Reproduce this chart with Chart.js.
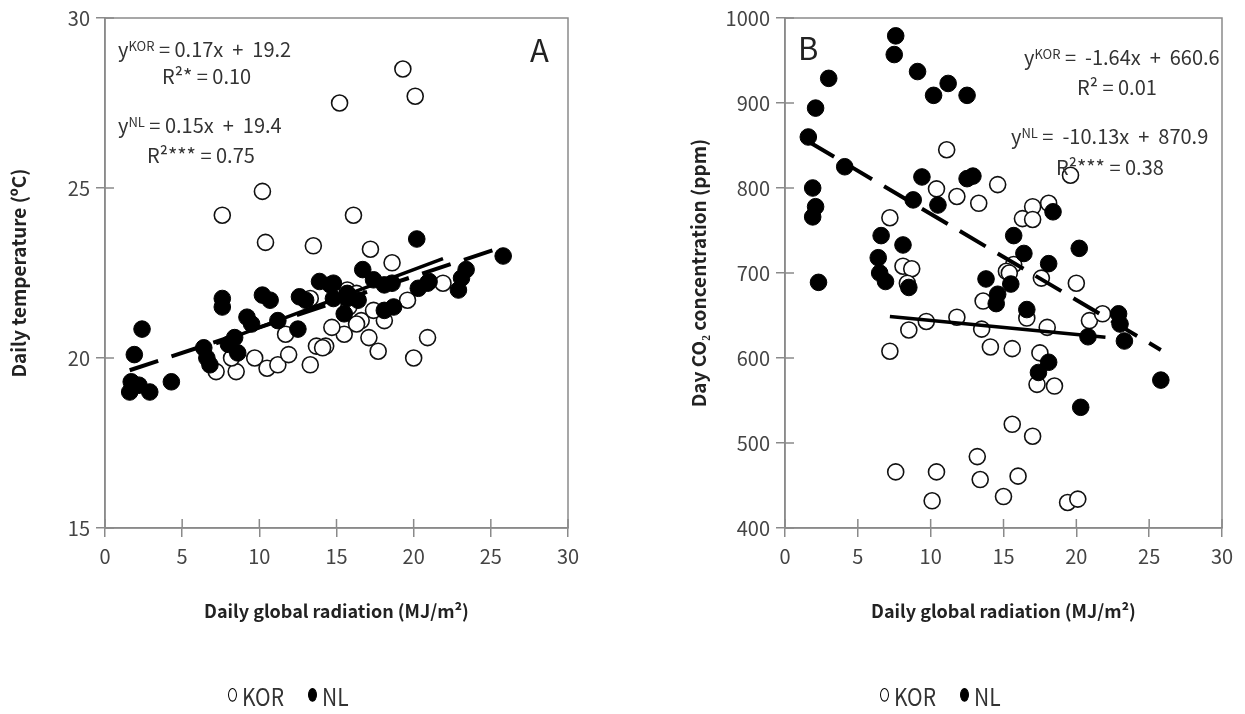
<!DOCTYPE html>
<html>
<head>
<meta charset="utf-8">
<script src="https://cdn.jsdelivr.net/npm/chart.js@4.4.0/dist/chart.umd.min.js"></script>
<style>
body{margin:0;background:#fff;width:1245px;height:714px;position:relative;overflow:hidden;font-family:"Noto Sans CJK KR","Noto Sans",sans-serif;color:#333}
.box{position:absolute;top:0;height:714px}
.note{position:absolute;font-size:20px;white-space:pre;line-height:20px;color:#333}
.note sup{font-size:13px;vertical-align:6px}
.big{position:absolute;font-size:31px;line-height:30px;color:#222}
.leg{position:absolute;top:686px;font-size:21px;line-height:20px;white-space:nowrap;transform:scaleY(1.15);color:#333}
.mk{display:inline-block;width:7px;height:10px;border-radius:50%;border:1.5px solid #000;background:#fff;margin-right:5px;vertical-align:4px}
.mk.f{background:#000;margin-left:24px}
</style>
</head>
<body>

<div class="box" style="left:0;width:600px"><canvas id="chartA" width="600" height="714"></canvas></div>
<div class="box" style="left:680px;width:565px"><canvas id="chartB" width="565" height="714"></canvas></div>

<div class="note" style="left:118px;top:36px">y<sup>KOR</sup> = 0.17x  +  19.2</div>
<div class="note" style="left:162px;top:66px">R²* = 0.10</div>
<div class="note" style="left:118px;top:112px">y<sup>NL</sup> = 0.15x  +  19.4</div>
<div class="note" style="left:147px;top:145px">R²*** = 0.75</div>
<div class="big" style="left:530px;top:34px">A</div>

<div class="big" style="left:798px;top:32px">B</div>
<div class="note" style="left:1024px;top:44px">y<sup>KOR</sup> =  -1.64x  +  660.6</div>
<div class="note" style="left:1077px;top:77px">R² = 0.01</div>
<div class="note" style="left:1011px;top:123px">y<sup>NL</sup> =  -10.13x  +  870.9</div>
<div class="note" style="left:1056px;top:157px">R²*** = 0.38</div>

<div class="leg" style="left:228px"><span class="mk"></span>KOR<span class="mk f"></span>NL</div>
<div class="leg" style="left:880px"><span class="mk"></span>KOR<span class="mk f"></span>NL</div>

<script>
// A: daily temperature vs radiation
var korA_x = [19.3,20.1,15.2,10.2,7.6,16.1,10.4,13.5,17.2,18.6,21.9,19.6,20.9,20.0,16.6,15.5,17.1,17.7,18.1,17.4,14.7,15.7,7.2,8.5,9.7,10.5,11.2,11.9,11.7,13.3,13.7,14.3,13.3,8.2,16.3,15.8,14.1,16.3];
var korA_y = [28.5,27.7,27.5,24.9,24.2,24.2,23.4,23.3,23.2,22.8,22.2,21.7,20.6,20.0,21.1,20.7,20.6,20.2,21.1,21.4,20.9,22.0,19.6,19.6,20.0,19.7,19.8,20.1,20.7,19.8,20.35,20.35,21.75,20.0,21.9,21.5,20.3,21.0];
var nlA_x = [2.4,1.9,1.7,1.6,2.2,2.9,4.3,6.4,6.6,6.8,7.6,7.6,8.0,8.4,8.6,9.2,9.5,10.2,10.7,11.2,12.5,12.6,13.0,13.9,14.6,14.8,20.2,25.8,16.7,17.4,18.1,14.8,15.7,16.4,15.5,18.1,18.7,20.3,21.0,22.9,23.1,23.4,18.6,20.9,15.7];
var nlA_y = [20.85,20.1,19.3,19.0,19.2,19.0,19.3,20.3,20.0,19.8,21.75,21.5,20.4,20.6,20.15,21.2,21.0,21.85,21.7,21.1,20.85,21.8,21.7,22.25,22.15,21.75,23.5,23.0,22.6,22.3,22.15,22.2,21.9,21.7,21.3,21.4,21.5,22.05,22.25,22.0,22.35,22.6,22.2,22.2,21.75];
var fitA_kor_x = [7.2, 21.9];
var fitA_kor_y = [20.42, 22.92];
var fitA_nl_x = [1.6, 25.8];
var fitA_nl_y = [19.64, 23.27];

// B: day CO2 vs radiation
var korB_x = [11.1,10.4,11.8,13.3,14.6,7.2,19.6,17.0,18.1,16.3,17.0,15.7,15.2,17.6,20.0,16.6,18.0,20.9,21.8,15.6,17.5,7.2,8.5,9.7,11.8,13.5,14.1,17.3,18.5,15.6,17.0,13.2,7.6,10.4,13.4,16.0,10.1,15.0,19.4,20.1,8.1,8.7,8.4,13.6,15.4];
var korB_y = [845,799,790,782,804,765,815,778,782,764,763,710,702,694,688,647,636,644,652,611,606,608,633,643,648,634,613,569,567,522,508,484,466,466,457,461,432,437,430,434,708,705,688,667,700];
var nlB_x = [7.6,7.5,9.1,11.2,10.2,12.5,3.0,2.1,1.6,4.1,1.9,2.1,1.9,9.4,12.9,12.5,8.8,10.5,6.6,8.1,6.4,2.3,6.5,6.9,8.5,13.8,14.6,14.5,15.5,15.7,16.4,18.1,18.4,20.2,16.6,20.8,22.9,23.0,23.3,18.1,17.4,25.8,20.3];
var nlB_y = [979,957,937,923,909,909,929,894,860,825,800,778,766,813,814,811,786,780,744,733,718,689,700,690,683,693,675,664,687,744,723,711,772,729,657,625,652,640,620,595,583,574,542];
var fitB_kor_x = [7.2, 22.0];
var fitB_kor_y = [648.8, 624.5];
var fitB_nl_x = [1.6, 25.8];
var fitB_nl_y = [854.7, 609.5];

var xTitle = 'Daily global radiation (MJ/m²)';
var yTitleA = 'Daily temperature (ºC)';
var yTitleB = 'Day CO₂ concentration (ppm)';

function pts(xs, ys) {
  var out = [];
  for (var i = 0; i < xs.length; i++) out.push({x: xs[i], y: ys[i]});
  return out;
}

// box round the plot + inner half of the ticks
var frame = {
  id: 'frame',
  afterDraw: function(chart) {
    var c = chart.ctx, a = chart.chartArea;
    c.save();
    c.strokeStyle = '#8a8a8a';
    c.lineWidth = 1.5;
    c.strokeRect(a.left, a.top, a.right - a.left, a.bottom - a.top);
    c.beginPath();
    chart.scales.x.ticks.forEach(function(t) {
      var px = chart.scales.x.getPixelForValue(t.value);
      c.moveTo(px, a.bottom); c.lineTo(px, a.bottom - 9);
    });
    chart.scales.y.ticks.forEach(function(t) {
      var py = chart.scales.y.getPixelForValue(t.value);
      c.moveTo(a.left, py); c.lineTo(a.left + 9, py);
    });
    c.stroke();
    c.restore();
  }
};

function makeChart(id, kor, nl, fitKor, fitNl, ymin, ymax, ystep, yTitle, padRight) {
  var ctx = document.getElementById(id).getContext('2d');
  return new Chart(ctx, {
    type: 'scatter',
    data: {
      datasets: [
        {label: 'fitNL', data: fitNl, showLine: true, borderColor: '#000', borderWidth: 4, borderDash: [30, 14], pointRadius: 0, order: 0},
        {label: 'fitKOR', data: fitKor, showLine: true, borderColor: '#000', borderWidth: 3.5, pointRadius: 0, order: 0},
        {label: 'NL', data: nl, backgroundColor: '#000', borderColor: '#000', borderWidth: 1, pointRadius: 8.3, order: 1},
        {label: 'KOR', data: kor, backgroundColor: '#fff', borderColor: '#111', borderWidth: 1.6, pointRadius: 8, order: 2}
      ]
    },
    options: {
      responsive: false,
      animation: false,
      events: [],
      layout: {padding: {left: 0, top: 15, right: padRight, bottom: 80}},
      plugins: {legend: {display: false}, tooltip: {enabled: false}},
      scales: {
        x: {
          type: 'linear', min: 0, max: 30,
          ticks: {stepSize: 5, color: '#444', padding: 7, font: {family: 'Noto Sans CJK KR', size: 20}},
          grid: {drawOnChartArea: false, color: '#8a8a8a', lineWidth: 1.5, tickLength: 9},
          border: {color: '#8a8a8a', width: 1.5},
          title: {display: true, text: xTitle, color: '#222', padding: {top: 0, bottom: 12}, font: {family: 'Noto Sans CJK KR', size: 18, weight: 'bold'}},
          afterFit: function(s) { s.height = 106; }
        },
        y: {
          min: ymin, max: ymax,
          ticks: {stepSize: ystep, color: '#444', padding: 6, font: {family: 'Noto Sans CJK KR', size: 20},
            callback: function(v) { return String(v); }},
          grid: {drawOnChartArea: false, color: '#8a8a8a', lineWidth: 1.5, tickLength: 9},
          border: {color: '#8a8a8a', width: 1.5},
          title: {display: true, text: yTitle, color: '#222', padding: {top: 7, bottom: 0}, font: {family: 'Noto Sans CJK KR', size: 19, weight: 'bold'}},
          afterFit: function(s) { s.width = 105; }
        }
      }
    },
    plugins: [frame]
  });
}

var chartA = makeChart('chartA', pts(korA_x, korA_y), pts(nlA_x, nlA_y), pts(fitA_kor_x, fitA_kor_y), pts(fitA_nl_x, fitA_nl_y), 15, 30, 5, yTitleA, 32);
var chartB = makeChart('chartB', pts(korB_x, korB_y), pts(nlB_x, nlB_y), pts(fitB_kor_x, fitB_kor_y), pts(fitB_nl_x, fitB_nl_y), 400, 1000, 100, yTitleB, 23);
</script>
</body>
</html>
